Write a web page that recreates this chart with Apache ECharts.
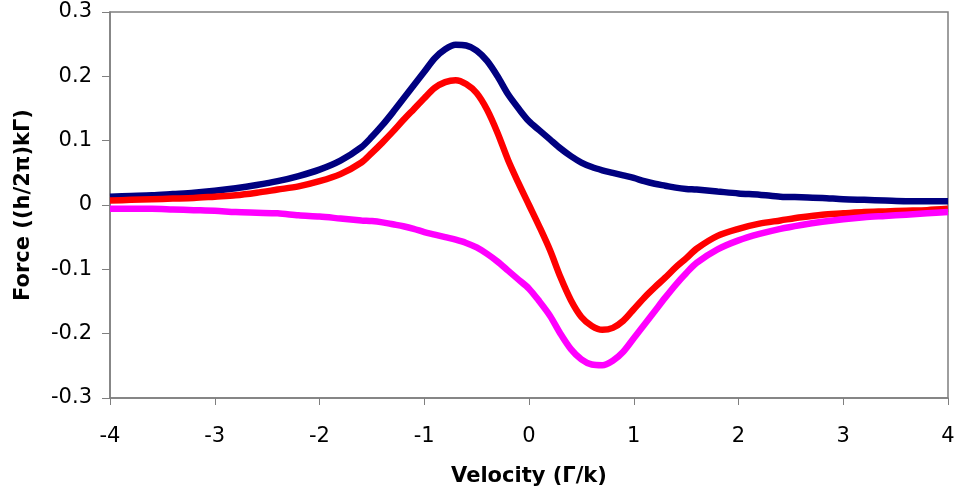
<!DOCTYPE html>
<html>
<head>
<meta charset="utf-8">
<script src="https://cdn.jsdelivr.net/npm/echarts@6/dist/echarts.min.js"></script>
<style>
html,body{margin:0;padding:0;background:#fff;}
#chart{width:958px;height:497px;}
</style>
</head>
<body>
<div id="chart"></div>
<script>
var velocity = [-4,-3.8,-3.6,-3.4,-3.2,-3,-2.8,-2.6,-2.4,-2.2,-2,-1.8,-1.6,
  -1.5,-1.4,-1.3,-1.2,-1.1,-1,-0.9,-0.8,-0.7,-0.6,-0.5,-0.4,-0.3,-0.2,-0.1,0,0.1,0.2,0.3,0.4,0.5,0.6,0.7,0.8,0.9,1,1.1,1.2,1.3,1.4,1.5,
  1.6,1.8,2,2.2,2.4,2.6,2.8,3,3.2,3.4,3.6,3.8,4];

var forceBlue = [0.013,0.014,0.015,0.017,0.019,0.022,0.026,0.031,0.037,0.045,0.055,0.069,0.090,
  0.106,0.124,0.144,0.165,0.186,0.207,0.228,0.242,0.249,0.248,0.240,0.224,0.200,0.172,0.150,0.130,0.116,0.102,0.088,0.076,0.066,0.059,0.054,0.050,0.046,0.042,0.037,0.033,0.030,0.027,0.025,
  0.024,0.021,0.018,0.016,0.013,0.012,0.011,0.009,0.008,0.007,0.006,0.006,0.006];

var forceRed = [0.007,0.008,0.009,0.010,0.011,0.013,0.015,0.019,0.024,0.029,0.037,0.048,0.066,
  0.081,0.097,0.114,0.132,0.149,0.166,0.182,0.191,0.194,0.188,0.174,0.148,0.112,0.070,0.034,0.000,-0.034,-0.070,-0.112,-0.148,-0.174,-0.188,-0.194,-0.191,-0.180,-0.162,-0.144,-0.128,-0.113,-0.097,-0.083,
  -0.068,-0.048,-0.037,-0.029,-0.024,-0.019,-0.015,-0.013,-0.011,-0.010,-0.009,-0.008,-0.006];

var forceMagenta = [-0.006,-0.006,-0.006,-0.007,-0.008,-0.009,-0.011,-0.012,-0.013,-0.016,-0.018,-0.021,-0.024,
  -0.025,-0.027,-0.030,-0.033,-0.037,-0.042,-0.046,-0.050,-0.054,-0.059,-0.066,-0.076,-0.088,-0.102,-0.116,-0.130,-0.150,-0.172,-0.200,-0.224,-0.240,-0.248,-0.249,-0.242,-0.228,-0.207,-0.186,-0.165,-0.144,-0.124,-0.106,
  -0.090,-0.069,-0.055,-0.045,-0.037,-0.031,-0.026,-0.022,-0.019,-0.017,-0.015,-0.013,-0.011];

var xTicks = {min: -4, max: 4, step: 1};
var yTicks = {min: -0.3, max: 0.3, step: 0.1};

function pairs(ys){ return velocity.map(function(x,i){ return [x, ys[i]]; }); }

var chart = echarts.init(document.getElementById('chart'), null, {renderer:'canvas'});
var font = '"DejaVu Sans", "Liberation Sans", Arial, sans-serif';
var axisColor = '#7f7f7f';

chart.setOption({
  animation: false,
  backgroundColor: '#ffffff',
  grid: {left: 110, right: 10, top: 12, bottom: 99, show: true, borderColor: axisColor, borderWidth: 1.5, containLabel: false},
  xAxis: {
    type: 'value', min: xTicks.min, max: xTicks.max, interval: xTicks.step,
    name: 'Velocity (Γ/k)', nameLocation: 'middle', nameGap: 68,
    nameTextStyle: {fontFamily: font, fontSize: 21, fontWeight: 'bold', color: '#000'},
    axisLine: {onZero: false, lineStyle: {color: axisColor, width: 1.5}},
    axisTick: {show: true, inside: false, length: 7, lineStyle: {color: axisColor, width: 1}},
    axisLabel: {fontFamily: font, fontSize: 21, color: '#000', margin: 28},
    splitLine: {show: false}
  },
  yAxis: {
    type: 'value', min: yTicks.min, max: yTicks.max, interval: yTicks.step,
    name: 'Force ((h/2π)kΓ)', nameLocation: 'middle', nameGap: 76, nameRotate: 90,
    nameTextStyle: {fontFamily: font, fontSize: 21, fontWeight: 'bold', color: '#000'},
    axisLine: {onZero: false, lineStyle: {color: axisColor, width: 1.5}},
    axisTick: {show: true, inside: false, length: 8, lineStyle: {color: axisColor, width: 1}},
    axisLabel: {fontFamily: font, fontSize: 21, color: '#000', margin: 18,
      formatter: function(v){ return String(parseFloat(v.toFixed(1))); }},
    splitLine: {show: false}
  },
  series: [
    {name: 'blue', type: 'line', data: pairs(forceBlue), showSymbol: false, smooth: 0.3,
     lineStyle: {color: '#000080', width: 6.5}, itemStyle: {color: '#000080'}},
    {name: 'red', type: 'line', data: pairs(forceRed), showSymbol: false, smooth: 0.3,
     lineStyle: {color: '#ff0000', width: 6.5}, itemStyle: {color: '#ff0000'}},
    {name: 'magenta', type: 'line', data: pairs(forceMagenta), showSymbol: false, smooth: 0.3,
     lineStyle: {color: '#ff00ff', width: 6.5}, itemStyle: {color: '#ff00ff'}}
  ]
});
</script>
</body>
</html>
